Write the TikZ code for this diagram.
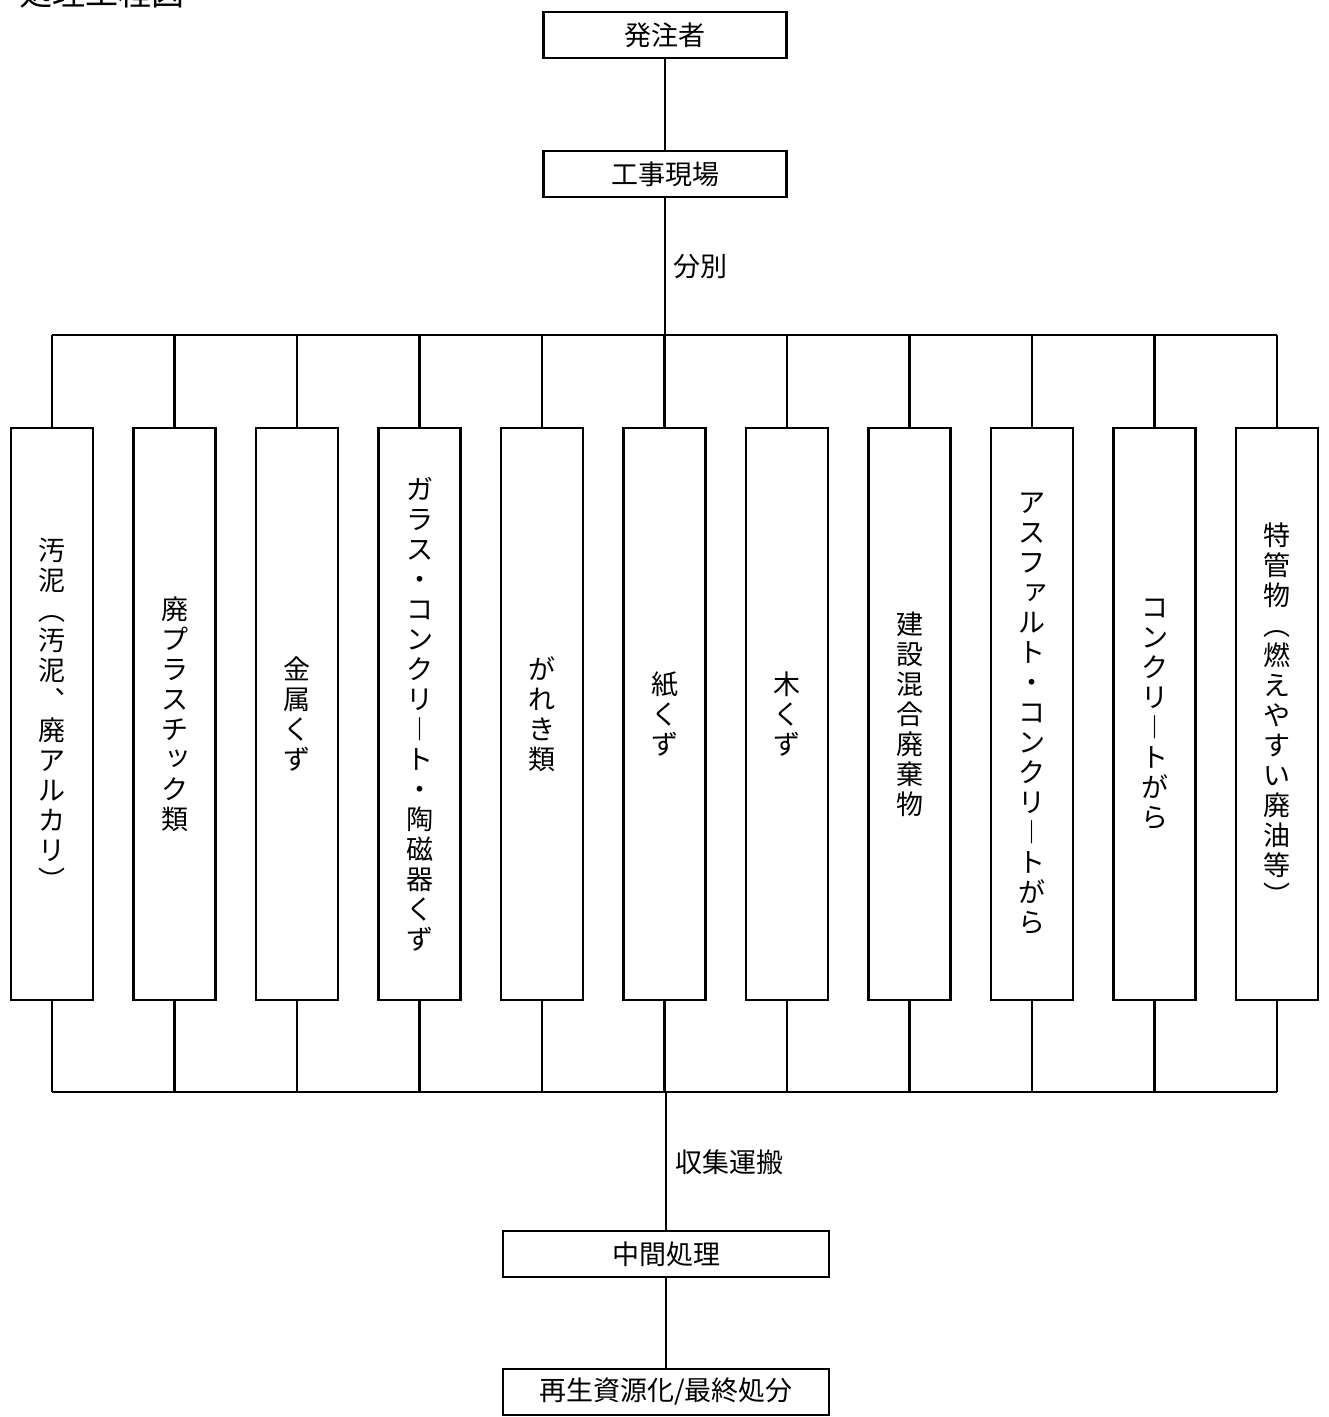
\documentclass[tikz,border=0pt]{standalone}
\usepackage{fontspec}
\newfontfamily\jpfont{Noto Sans CJK JP}
\usetikzlibrary{positioning}
\newcommand\sk[1]{\raisebox{.14em}{\hspace{.28em}#1}}
\tikzset{
  flowbox/.style={rectangle,draw,line width=1.3pt,minimum width=121.5pt,minimum height=23pt,
                  inner sep=2pt,font=\jpfont\fontsize{13.5}{15}\selectfont},
  wastebox/.style={rectangle,draw,line width=1.3pt,minimum width=41pt,minimum height=286pt,
                   inner sep=0pt,align=center,font=\jpfont\fontsize{13.5}{15}\selectfont},
  note/.style={anchor=west,inner sep=0pt,font=\jpfont\fontsize{13.5}{15}\selectfont},
  link/.style={line width=1.2pt},
}
\begin{document}
\begin{tikzpicture}[x=0.5pt,y=-0.5pt,node distance=18.95pt]
  \useasboundingbox (0,0) rectangle (1328,1417);
  \node[anchor=west,inner sep=0pt,font=\jpfont\fontsize{16.5}{18}\selectfont] (title) at (19,-7) {処理工程図};
  \node[flowbox] (hatchu) at (665,35) {発注者};
  \node[flowbox] (genba) at (665,174) {工事現場};
  \node[note] (bunbetsu) at (673,267) {分別};
  \coordinate (bustop) at (665,335);
  \coordinate (busbot) at (665,1092);
  \node[wastebox] (w1) at (52,714) {汚\\泥\\︵\\汚\\泥\\︑\\廃\\ア\\ル\\カ\\リ\\︶};
  \node[wastebox,right=of w1] (w2) {廃\\プ\\ラ\\ス\\チ\\\sk{ッ}\\ク\\類};
  \node[wastebox,right=of w2] (w3) {金\\属\\く\\ず};
  \node[wastebox,right=of w3] (w4) {ガ\\ラ\\ス\\・\\コ\\ン\\ク\\リ\\︱\\ト\\・\\陶\\磁\\器\\く\\ず};
  \node[wastebox,right=of w4] (w5) {が\\れ\\き\\類};
  \node[wastebox,right=of w5] (w6) {紙\\く\\ず};
  \node[wastebox,right=of w6] (w7) {木\\く\\ず};
  \node[wastebox,right=of w7] (w8) {建\\設\\混\\合\\廃\\棄\\物};
  \node[wastebox,right=of w8] (w9) {ア\\ス\\フ\\\sk{ァ}\\ル\\ト\\・\\コ\\ン\\ク\\リ\\︱\\ト\\が\\ら};
  \node[wastebox,right=of w9] (w10) {コ\\ン\\ク\\リ\\︱\\ト\\が\\ら};
  \node[wastebox,right=of w10] (w11) {特\\管\\物\\︵\\燃\\え\\や\\す\\い\\廃\\油\\等\\︶};
  \node[note] (shuushuu) at (675,1162) {収集運搬};
  \node[flowbox,minimum width=163pt] (chuukan) at (666,1254) {中間処理};
  \node[flowbox,minimum width=163pt] (saisei) at (666,1392) {再生資源化/最終処分};
  \draw[link] (hatchu) -- (genba);
  \draw[link] (genba) -- (bustop);
  \draw[link] (w1 |- bustop) -- (w11 |- bustop);
  \draw[link] (w1 |- busbot) -- (w11 |- busbot);
  \foreach \i in {1,...,11} {
    \draw[link] (w\i |- bustop) -- (w\i);
    \draw[link] (w\i) -- (w\i |- busbot);
  }
  \draw[link] (busbot -| chuukan) -- (chuukan);
  \draw[link] (chuukan) -- (saisei);
\end{tikzpicture}
\end{document}
